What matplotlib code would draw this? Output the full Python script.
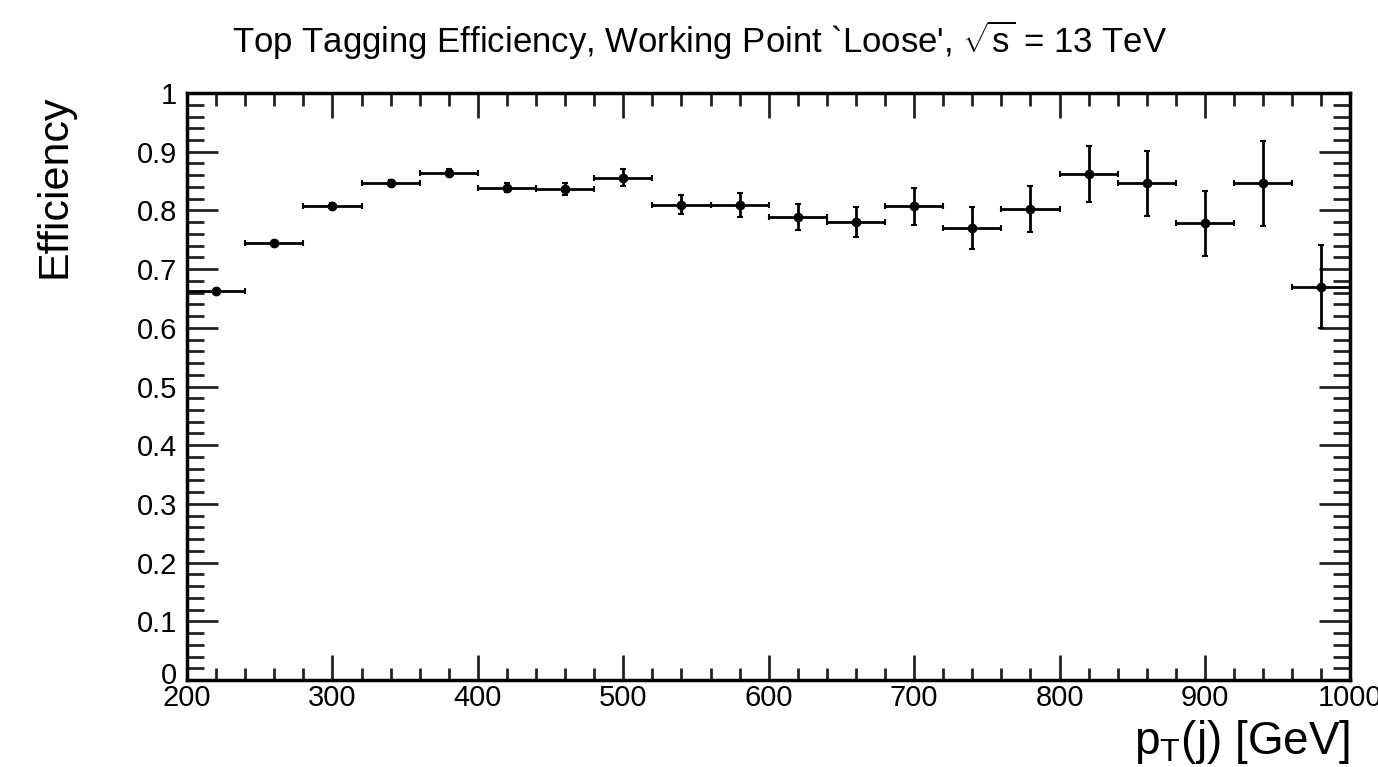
import matplotlib
matplotlib.use("Agg")
import matplotlib.pyplot as plt
from matplotlib.ticker import MultipleLocator, FixedLocator
from matplotlib.transforms import ScaledTranslation
import numpy as np

plt.rcParams['font.family'] = ['Liberation Sans', 'DejaVu Sans']
plt.rcParams['mathtext.fontset'] = 'custom'
plt.rcParams['mathtext.rm'] = 'Liberation Sans'
plt.rcParams['mathtext.it'] = 'Liberation Sans'
plt.rcParams['mathtext.bf'] = 'Liberation Sans:bold'

# bin centres (GeV), bin half-width 20 GeV
pt = [220, 260, 300, 340, 380, 420, 460, 500, 540, 580,
      620, 660, 700, 740, 780, 820, 860, 900, 940, 980]
half_width = [20] * 20
eff = [0.663, 0.744, 0.808, 0.846, 0.864, 0.839, 0.836, 0.856, 0.810, 0.809,
       0.789, 0.780, 0.807, 0.770, 0.803, 0.862, 0.846, 0.778, 0.846, 0.670]
eff_err = [0.003, 0.003, 0.004, 0.005, 0.006, 0.007, 0.010, 0.014, 0.016, 0.020,
           0.022, 0.026, 0.031, 0.035, 0.039, 0.048, 0.056, 0.055, 0.073, 0.071]

xticks = [200, 300, 400, 500, 600, 700, 800, 900, 1000]
yticks = [0, 0.1, 0.2, 0.3, 0.4, 0.5, 0.6, 0.7, 0.8, 0.9, 1]
ytick_labels = ['0', '0.1', '0.2', '0.3', '0.4', '0.5', '0.6', '0.7', '0.8', '0.9', '1']

fig = plt.figure(figsize=(13.78, 7.67), dpi=100)
ax = fig.add_axes([0.1357, 0.1134, 0.8443, 0.7653])

ax.errorbar(pt, eff, xerr=half_width, yerr=eff_err, fmt='o', color='black',
            markersize=6, elinewidth=2, capsize=2, capthick=1.5)

ax.set_xlim(200, 1000)
ax.set_ylim(0, 1)
ax.xaxis.set_major_locator(FixedLocator(xticks))
ax.xaxis.set_minor_locator(MultipleLocator(20))
ax.yaxis.set_major_locator(FixedLocator(yticks))
ax.set_yticklabels(ytick_labels)
ax.yaxis.set_minor_locator(MultipleLocator(0.02))

ax.tick_params(which='both', direction='in', top=True, right=True,
               labelsize=21, width=2, color='#222222')
ax.tick_params(which='major', length=18)
ax.tick_params(which='minor', length=9)
ax.tick_params(axis='y', which='major', length=22, pad=7)
ax.tick_params(axis='y', which='minor', length=12)
ax.tick_params(axis='x', pad=3)
for s in ax.spines.values():
    s.set_linewidth(2.5)

# the "0" on the y axis sits a little higher, as in the original
lab0 = ax.get_yticklabels()[0]
lab0.set_transform(lab0.get_transform() + ScaledTranslation(0, 5 / 72, fig.dpi_scale_trans))

fig.text(0.508, 1 - 40 / 767,
         "Top Tagging Efficiency, Working Point `Loose', $\\sqrt{\\mathrm{s}}$ = 13 TeV",
         fontsize=25, ha='center', va='center')
fig.text(55 / 1378, 1 - 95 / 767, 'Efficiency', fontsize=31, rotation=90,
         ha='center', va='top')
ax.set_xlabel(r'p$_{\mathrm{T}}$(j) [GeV]', fontsize=33, loc='right', labelpad=4)

fig.savefig('out.png', dpi=100)
